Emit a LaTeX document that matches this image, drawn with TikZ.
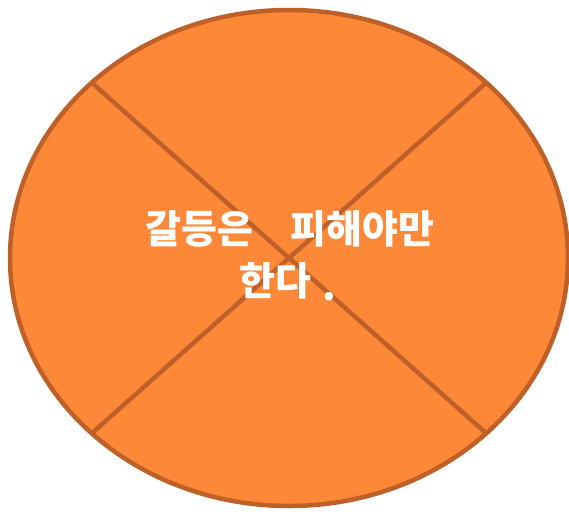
\documentclass[tikz,border=0pt]{standalone}
\usepackage{fontspec}
\newfontfamily\kr{Noto Sans CJK KR}
\definecolor{orfill}{RGB}{253,136,56}
\definecolor{orline}{RGB}{190,96,40}
\begin{document}
\begin{tikzpicture}[x=1pt,y=-1pt,
  txt/.style={text=white,font=\kr\bfseries\fontsize{39}{39}\selectfont,inner sep=0pt,anchor=center}]
\useasboundingbox (0,0) rectangle (569,511);
\def\cx{289}\def\cy{258}\def\rx{279}\def\ry{248}
\fill[orfill] (\cx,\cy) ellipse [x radius=\rx, y radius=\ry];
\coordinate (p1) at ({\cx+\rx*cos(45)},{\cy-\ry*sin(45)});
\coordinate (p2) at ({\cx+\rx*cos(135)},{\cy-\ry*sin(135)});
\coordinate (p3) at ({\cx+\rx*cos(225)},{\cy-\ry*sin(225)});
\coordinate (p4) at ({\cx+\rx*cos(315)},{\cy-\ry*sin(315)});
\draw[orline,line width=4.5pt] (p2) -- (p4);
\draw[orline,line width=4.5pt] (p1) -- (p3);
\draw[orline,line width=4.5pt] (\cx,\cy) ellipse [x radius=\rx, y radius=\ry];
\node[txt] (l1) at (290,229) {갈등은\hspace{0.95em}피해야만};
\node[txt] (l2) at (288,282) {한다\hspace{0.3em}\raisebox{-5pt}{.}};
\end{tikzpicture}
\end{document}
